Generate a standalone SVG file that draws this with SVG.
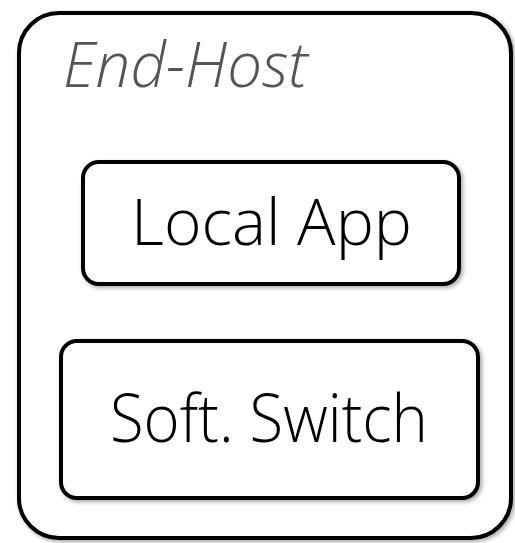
<svg xmlns="http://www.w3.org/2000/svg" width="515" height="543" viewBox="0 0 515 543">
  <style>
    .box { fill: #ffffff; stroke: #000000; stroke-width: 4; filter: url(#shadow); }
    .label { font-family: "Open Sans", "Liberation Sans", sans-serif; font-weight: 300; fill: #000000; }
    .title { font-family: "Open Sans", "Liberation Sans", sans-serif; font-weight: 300; font-style: italic; fill: #555555; font-size: 62px; }
  </style>
  <defs>
    <filter id="shadow" x="-10%" y="-10%" width="120%" height="120%">
      <feDropShadow dx="2" dy="2" stdDeviation="2" flood-color="#000000" flood-opacity="0.35"/>
    </filter>
  </defs>
  <g id="end-host">
    <rect class="box" x="19" y="13" width="492" height="525" rx="40" ry="40"/>
    <text class="title" x="63" y="87" textLength="245" lengthAdjust="spacingAndGlyphs">End-Host</text>
  </g>
  <g id="local-app">
    <rect class="box" x="83" y="162" width="376" height="122" rx="16" ry="16"/>
    <text class="label" x="131" y="245" font-size="65" textLength="281" lengthAdjust="spacingAndGlyphs">Local App</text>
  </g>
  <g id="soft-switch">
    <rect class="box" x="61" y="341" width="417" height="157" rx="16" ry="16"/>
    <text class="label" x="110" y="442" font-size="67" textLength="318" lengthAdjust="spacingAndGlyphs">Soft. Switch</text>
  </g>
  <g id="connectors"/>
</svg>
